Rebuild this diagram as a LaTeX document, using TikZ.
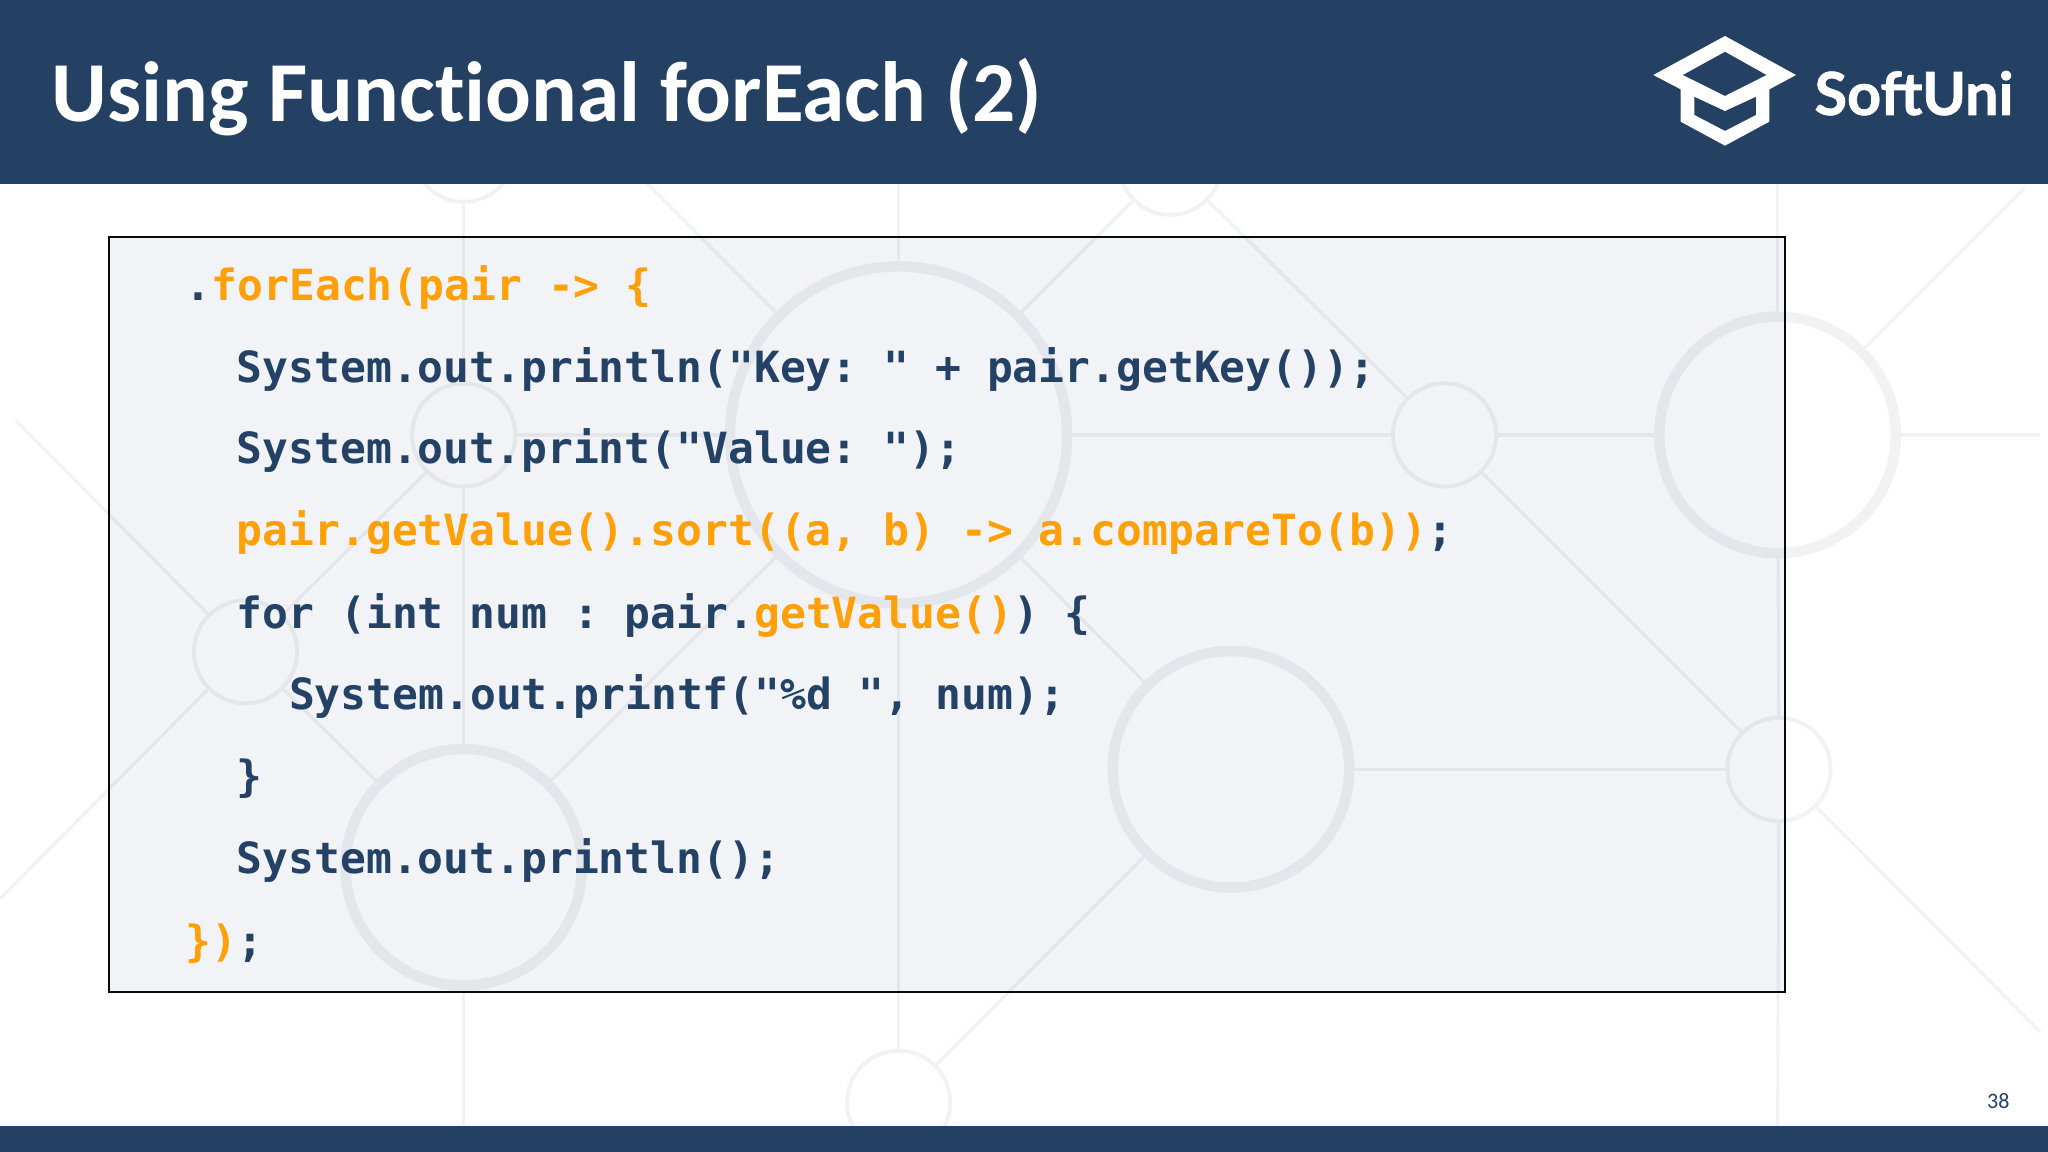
\documentclass[tikz,border=0pt]{standalone}
\usepackage{fontspec}
\setmainfont{Carlito}[Ligatures={TeX,NoCommon}]
\newfontfamily\codefont{DejaVu Sans Mono}
\newfontfamily\logofont{Lato}[BoldFeatures={FakeBold=1.2}]
\usetikzlibrary{calc}
\definecolor{headblue}{HTML}{244062}
\definecolor{codeblue}{HTML}{234266}
\definecolor{codeorange}{HTML}{FFA008}
\definecolor{ringgrey}{HTML}{F1F2F4}
\definecolor{panelgrey}{HTML}{F1F3F6}
\tikzset{
	bigring/.style={circle, draw=ringgrey, line width=0.2cm, inner sep=0pt, minimum size=4.525cm},
	hugering/.style={circle, draw=ringgrey, line width=0.2cm, inner sep=0pt, minimum size=6.45cm},
	smallring/.style={circle, draw=ringgrey, line width=0.075cm, inner sep=0pt, minimum size=1.975cm},
	link/.style={draw=ringgrey, line width=0.06cm},
	codeline/.style={anchor=base west, inner sep=0pt, text=codeblue, font=\codefont\bfseries\frenchspacing\fontsize{23.4}{28}\selectfont},
}
\newcommand{\hot}[1]{\textcolor{codeorange}{#1}}

\begin{document}
\begin{tikzpicture}[x=0.025cm, y=-0.025cm]
			\useasboundingbox (0, 0) rectangle (1568, 882);
			
			%%%%% BACKGROUND %%%%%
			
			\node[hugering] (hubtop) at (688, 333) {};
			\node[bigring] (hubright) at (1361, 333) {};
			\node[bigring] (hubmid) at (942.5, 589) {};
			\node[bigring] (hubleft) at (355, 664) {};
			
			\node[smallring] (dotnw) at (355, 115) {};
			\node[smallring] (dotne) at (896, 125) {};
			\node[smallring] (dotw) at (355, 333) {};
			\node[smallring] (dotfar) at (188, 499) {};
			\node[smallring] (dote) at (1106, 333) {};
			\node[smallring] (dotse) at (1362, 589) {};
			\node[smallring] (dots) at (688, 844) {};
			
			\coordinate (endtop) at (688, 130);
			\coordinate (endnw) at (470, 115);
			\coordinate (endtr) at (1361, 130);
			\coordinate (endne) at (1550, 144);
			\coordinate (endright) at (1562, 333);
			\coordinate (endlow) at (1562, 790);
			\coordinate (endbr) at (1361, 870);
			\coordinate (endbl) at (355, 870);
			\coordinate (endul) at (12, 322);
			\coordinate (endll) at (0, 688);
			
			\draw[link] (dotnw) -- (dotw);
			\draw[link] (dotw) -- (hubleft);
			\draw[link] (hubleft) -- (endbl);
			\draw[link] (hubtop) -- (endtop);
			\draw[link] (hubtop) -- (dots);
			\draw[link] (hubright) -- (endtr);
			\draw[link] (hubright) -- (dotse);
			\draw[link] (dotse) -- (endbr);
			\draw[link] (dotw) -- (hubtop);
			\draw[link] (hubtop) -- (dote);
			\draw[link] (dote) -- (hubright);
			\draw[link] (hubright) -- (endright);
			\draw[link] (hubmid) -- (dotse);
			\draw[link] (hubtop) -- (endnw);
			\draw[link] (hubtop) -- (dotne);
			\draw[link] (dotne) -- (dote);
			\draw[link] (dote) -- (dotse);
			\draw[link] (dotse) -- (endlow);
			\draw[link] (hubright) -- (endne);
			\draw[link] (hubmid) -- (dots);
			\draw[link] (hubmid) -- (hubtop);
			\draw[link] (hubleft) -- (hubtop);
			\draw[link] (hubleft) -- (dotfar);
			\draw[link] (dotfar) -- (dotw);
			\draw[link] (dotfar) -- (endul);
			\draw[link] (dotfar) -- (endll);
			
			%%%%% BARS %%%%%
			
			\fill[headblue] (0, 0) rectangle (1568, 141);
			\fill[headblue] (0, 862) rectangle (1568, 882);
			
			\node[anchor=base west, inner sep=0pt, text=white, font=\bfseries\fontsize{46.5}{56}\selectfont] (title) at (39.5, 93) {Using Functional forEach (2)};
			\node[anchor=base west, inner sep=0pt, text=white, font=\logofont\bfseries\fontsize{32.3}{38}\selectfont] (brand) at (1389, 88) {SoftUni};
			\node[anchor=base, inner sep=0pt, text=codeblue, font=\fontsize{12}{14}\selectfont] (pagenum) at (1530, 849) {38};
			
			\begin{scope}[shift={(1225, 0)}, scale=0.2552]
				\fill[white, even odd rule] (160, 225) -- (375, 108) -- (588, 225) -- (508, 268) -- (508, 365) -- (375, 437) -- (242, 365) -- (242, 268) -- cycle
					(248, 225) -- (375, 155) -- (500, 225) -- (375, 288) -- cycle
					(283, 290) -- (283, 345) -- (375, 393) -- (468, 345) -- (468, 290) -- (375, 333) -- cycle;
			\end{scope}
			
			%%%%% CODE %%%%%
			
			\fill[panelgrey, blend mode=multiply] (83.5, 181.5) rectangle (1366.5, 759.5);
			\draw[draw=black!85!headblue, line width=0.04cm] (83.5, 181.5) rectangle (1366.5, 759.5);
			
			\node[codeline] (line1) at (142, 230) {.\hot{forEach(pair -> \{}};
			\node[codeline] (line2) at (181, 293) {System.out.println("Key: " + pair.getKey());};
			\node[codeline] (line3) at (181, 355) {System.out.print("Value: ");};
			\node[codeline] (line4) at (181, 418) {\hot{pair.getValue().sort((a, b) -> a.compareTo(b))};};
			\node[codeline] (line5) at (181, 481) {for (int num : pair.\hot{getValue()}) \{};
			\node[codeline] (line6) at (221, 543) {System.out.printf("\%d ", num);};
			\node[codeline] (line7) at (181, 606) {\}};
			\node[codeline] (line8) at (181, 669) {System.out.println();};
			\node[codeline] (line9) at (142, 732) {\hot{\})};};
		\end{tikzpicture}
\end{document}
